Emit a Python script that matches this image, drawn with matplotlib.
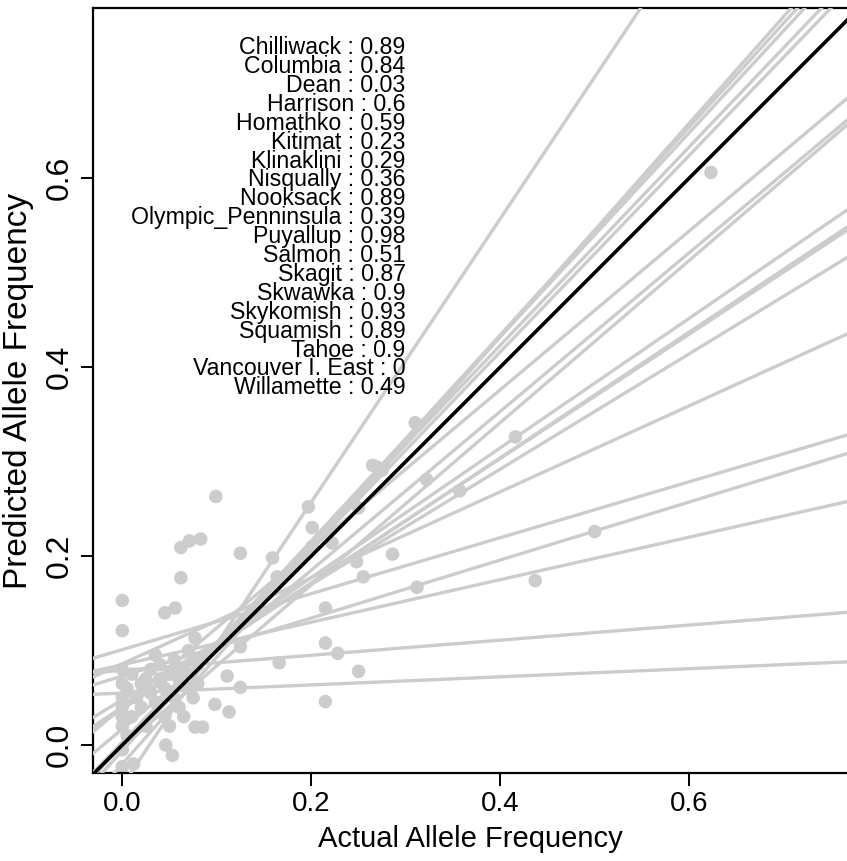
import matplotlib
matplotlib.use("Agg")
import matplotlib.pyplot as plt

plt.rcParams["font.family"] = ["Liberation Sans", "DejaVu Sans"]

# population labels with their fit values
populations = ["Chilliwack", "Columbia", "Dean", "Harrison", "Homathko", "Kitimat",
               "Klinaklini", "Nisqually", "Nooksack", "Olympic_Penninsula", "Puyallup",
               "Salmon", "Skagit", "Skwawka", "Skykomish", "Squamish", "Tahoe",
               "Vancouver I. East", "Willamette"]
fit_values = ["0.89", "0.84", "0.03", "0.6", "0.59", "0.23", "0.29", "0.36", "0.89",
              "0.39", "0.98", "0.51", "0.87", "0.9", "0.93", "0.89", "0.9", "0", "0.49"]

# per-population regression lines (intercept, slope)
intercepts = [-0.043, -0.020, -0.006, 0.000, 0.003, 0.000, 0.040, 0.017, -0.002, 0.040,
              0.038, 0.040, 0.048, 0.086, 0.101, 0.073, 0.085, 0.079, 0.055]
slopes = [1.50, 1.13, 1.10, 1.08, 1.05, 1.04, 0.84, 0.84, 0.858, 0.686,
          0.665, 0.658, 0.61, 0.455, 0.296, 0.307, 0.225, 0.080, 0.043]

# actual vs predicted allele frequencies
actual = [0.623, 0.099, 0.0, 0.0, 0.062, 0.071, 0.083, 0.062, 0.125, 0.045, 0.056,
          0.159, 0.197, 0.201, 0.164, 0.201, 0.222, 0.25, 0.27, 0.286, 0.255, 0.248,
          0.215, 0.215, 0.228, 0.25, 0.215, 0.166, 0.125, 0.111, 0.125, 0.098, 0.113,
          0.077, 0.085, 0.046, 0.053, 0.0, 0.077, 0.31, 0.416, 0.322, 0.357, 0.50,
          0.312, 0.437, 0.275, 0.265,
          0.0, 0.0, 0.0, 0.0, 0.0, 0.0, 0.005, 0.01, 0.015, 0.02, 0.025, 0.03, 0.03,
          0.035, 0.035, 0.04, 0.04, 0.045, 0.045, 0.05, 0.055, 0.055, 0.06, 0.06, 0.065,
          0.07, 0.07, 0.075, 0.08, 0.08, 0.02, 0.01, 0.025, 0.05, 0.065, 0.0, 0.005, 0.012]
predicted = [0.606, 0.263, 0.153, 0.121, 0.209, 0.216, 0.218, 0.177, 0.203, 0.140, 0.145,
             0.198, 0.252, 0.230, 0.178, 0.210, 0.214, 0.251, 0.294, 0.202, 0.178, 0.194,
             0.145, 0.108, 0.097, 0.078, 0.046, 0.087, 0.104, 0.073, 0.061, 0.043, 0.035,
             0.019, 0.019, 0.0, -0.011, -0.023, 0.113, 0.341, 0.326, 0.281, 0.269, 0.226,
             0.167, 0.174, 0.291, 0.296,
             0.08, 0.065, 0.05, 0.04, 0.03, 0.02, 0.06, 0.075, 0.05, 0.065, 0.07, 0.055, 0.08,
             0.095, 0.045, 0.07, 0.085, 0.06, 0.03, 0.075, 0.05, 0.09, 0.07, 0.04, 0.08,
             0.06, 0.1, 0.05, 0.085, 0.065, 0.04, 0.03, 0.02, 0.02, 0.03, -0.005, 0.01, -0.02]

xticks = [0.0, 0.2, 0.4, 0.6]
yticks = [0.0, 0.2, 0.4, 0.6]

grey = "#cccccc"

fig = plt.figure(figsize=(8.47, 8.61), dpi=100)
ax = fig.add_axes([93 / 847, 88 / 861, 1 - 93 / 847, 765 / 861])

ax.scatter(actual, predicted, s=95, color=grey, edgecolors="none", zorder=2)
for a, b in zip(intercepts, slopes):
    ax.axline((0, a), slope=b, color=grey, lw=2.4, zorder=3)
ax.axline((0, 0), slope=1, color="black", lw=2.6, zorder=4)

for i, (name, val) in enumerate(zip(populations, fit_values)):
    ax.text(0.30, 0.738 - 0.02 * i, name + " : " + val, ha="right", va="center",
            fontsize=16.7, zorder=5)

ax.set_xlim(-0.031, 0.767)
ax.set_ylim(-0.0296, 0.78)
ax.set_xticks(xticks)
ax.set_yticks(yticks)
ax.set_xticklabels([f"{t:.1f}" for t in xticks], fontsize=20)
ax.set_yticklabels([f"{t:.1f}" for t in yticks], fontsize=23, rotation=90, va="center")
ax.tick_params(axis="both", length=9, width=1.4, direction="out", pad=4)
ax.spines["right"].set_visible(False)
for side in ["left", "bottom", "top"]:
    ax.spines[side].set_linewidth(1.6)

ax.set_xlabel("Actual Allele Frequency", fontsize=21, labelpad=6)
ax.set_ylabel("Predicted Allele Frequency", fontsize=24, labelpad=8)

fig.savefig("out.png", dpi=100)
